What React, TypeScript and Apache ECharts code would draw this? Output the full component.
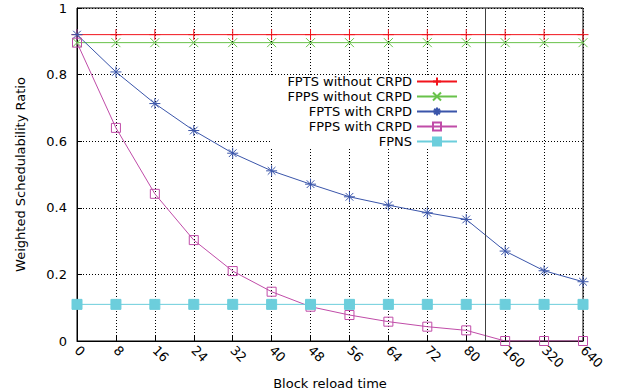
import React, { useEffect, useRef } from "react";
import * as echarts from "echarts";

const categories = ["0", "8", "16", "24", "32", "40", "48", "56", "64", "72", "80", "160", "320", "640"];
const fptsNoCrpd = [0.92, 0.92, 0.92, 0.92, 0.92, 0.92, 0.92, 0.92, 0.92, 0.92, 0.92, 0.92, 0.92, 0.92];
const fppsNoCrpd = [0.896, 0.896, 0.896, 0.896, 0.896, 0.896, 0.896, 0.896, 0.896, 0.896, 0.896, 0.896, 0.896, 0.896];
const fptsCrpd = [0.92, 0.808, 0.713, 0.632, 0.564, 0.511, 0.471, 0.433, 0.408, 0.385, 0.365, 0.27, 0.211, 0.178];
const fppsCrpd = [0.896, 0.64, 0.442, 0.303, 0.21, 0.148, 0.103, 0.078, 0.058, 0.043, 0.032, 0, 0, 0];
const fpns = [0.11, 0.11, 0.11, 0.11, 0.11, 0.11, 0.11, 0.11, 0.11, 0.11, 0.11, 0.11, 0.11, 0.11];
const yTicks = [0, 0.2, 0.4, 0.6, 0.8, 1];
const splitIndex = 10.5;

const FONT = "DejaVu Sans";
const FS = 13;

const toXY = (arr: number[]) => arr.map((v, i) => [i, v]);

const seriesDefs = [
  { name: "FPTS without CRPD", data: fptsNoCrpd, color: "#f2141c", symbol: "path://M5,0L5,10M0,5L10,5", size: 11, fill: "rgba(0,0,0,0)" },
  { name: "FPPS without CRPD", data: fppsNoCrpd, color: "#68c24a", symbol: "path://M0,0L10,10M10,0L0,10", size: 9, fill: "rgba(0,0,0,0)" },
  { name: "FPTS with CRPD", data: fptsCrpd, color: "#3a55aa", symbol: "path://M5,0L5,10M0,5L10,5M1.5,1.5L8.5,8.5M8.5,1.5L1.5,8.5", size: 11, fill: "rgba(0,0,0,0)" },
  { name: "FPPS with CRPD", data: fppsCrpd, color: "#c04ca8", symbol: "path://M0,0L10,0L10,10L0,10Z", size: 9, fill: "rgba(0,0,0,0)" },
  { name: "FPNS", data: fpns, color: "#6ccedc", symbol: "rect", size: 10, fill: "#6ccedc" },
];

export default function App() {
  const ref = useRef<HTMLDivElement>(null);
  useEffect(() => {
    if (!ref.current) return;
    const chart = echarts.init(ref.current, null, { renderer: "svg" });
    const series = seriesDefs.map((s, i) => ({
      name: s.name,
      type: "line",
      data: toXY(s.data),
      symbol: s.symbol,
      symbolSize: s.size,
      showSymbol: true,
      lineStyle: { color: s.color, width: 1 },
      itemStyle: { color: s.fill, borderColor: s.color, borderWidth: 1 },
      emphasis: { disabled: true },
      z: 3,
      ...(i === 0
        ? {
            markLine: {
              silent: true,
              symbol: "none",
              label: { show: false },
              lineStyle: { color: "#404040", type: "solid", width: 1 },
              data: [{ xAxis: splitIndex }],
            },
          }
        : {}),
    }));
    chart.setOption({
      animation: false,
      textStyle: { fontFamily: FONT },
      grid: {
        left: 77,
        right: 34,
        top: 8,
        bottom: 51,
        outerBoundsMode: "none",
        containLabel: false,
        show: true,
        borderColor: "#000",
        borderWidth: 1,
        backgroundColor: "transparent",
      },
      legend: {
        orient: "vertical",
        align: "right",
        right: 152,
        top: 75,
        padding: [0, 7, 0, 17],
        itemWidth: 40,
        itemHeight: 10,
        itemGap: 2,
        backgroundColor: "#fff",
        textStyle: { fontSize: FS, color: "#000", fontFamily: FONT },
        selectedMode: false,
        data: seriesDefs.map((s) => s.name),
      },
      xAxis: {
        type: "value",
        min: 0,
        max: categories.length - 1,
        interval: 1,
        name: "Block reload time",
        nameLocation: "middle",
        nameGap: 33,
        nameTextStyle: { fontSize: FS, color: "#000", fontFamily: FONT },
        axisLine: { show: true, lineStyle: { color: "#000", width: 1 } },
        axisTick: { show: true, inside: true, length: 5, lineStyle: { color: "#000" } },
        axisLabel: {
          rotate: -45,
          margin: 7,
          fontSize: FS,
          color: "#000",
          fontFamily: FONT,
          formatter: (v: number) => categories[v] ?? "",
        },
        splitLine: { show: true, lineStyle: { color: "#000", type: [1, 2], width: 1 } },
      },
      yAxis: {
        type: "value",
        min: 0,
        max: 1,
        interval: 0.2,
        name: "Weighted Schedulability Ratio",
        nameLocation: "middle",
        nameGap: 50,
        nameTextStyle: { fontSize: FS, color: "#000", fontFamily: FONT },
        axisLine: { show: true, lineStyle: { color: "#000", width: 1 } },
        axisTick: { show: true, inside: true, length: 5, lineStyle: { color: "#000" } },
        axisLabel: {
          margin: 10,
          fontSize: FS,
          color: "#000",
          fontFamily: FONT,
          formatter: (v: number) => {
            const t = yTicks.find((x) => Math.abs(x - v) < 1e-9);
            return t === undefined ? "" : String(t);
          },
        },
        splitLine: { show: true, lineStyle: { color: "#000", type: [1, 2], width: 1 } },
      },
      series,
    });
    return () => chart.dispose();
  }, []);
  return <div ref={ref} style={{ width: 617, height: 392, position: "absolute", left: 0, top: 0 }} />;
}
